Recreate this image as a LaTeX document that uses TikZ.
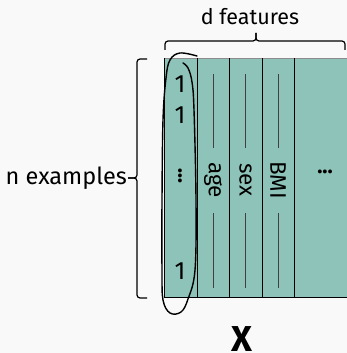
\documentclass[tikz,border=0pt]{standalone}
\usepackage{fontspec}
\setmainfont{Fira Sans}
\definecolor{matfill}{RGB}{141,195,184}
\definecolor{bgcol}{RGB}{249,249,249}
\begin{document}
\begin{tikzpicture}
[x=1pt, y=-1pt, font=\fontsize{21.5}{25}\selectfont,
brk/.style={line width=1.2pt, rounded corners=3pt},
sep/.style={line width=.9pt},
tick/.style={line width=.9pt, black!75},
hand/.style={line width=1.4pt, line cap=round}]
\fill[bgcol] (0,0) rectangle (347,353);
\useasboundingbox (0,0) rectangle (347,353);
\coordinate (tl) at (164,58.5);
\coordinate (br) at (348,297.5);
\fill[matfill] (tl) rectangle (br);
\draw[black!45] (tl) -- (tl -| br);
\draw[sep] (tl) |- (br);
\foreach \x in {197,229.5,262,294} \draw[sep] (\x,58.5) -- (\x,297.5);
\foreach \y/\v [count=\i] in {84/1, 115/1, 271/1} \node[font=\fontsize{25}{30}\selectfont] (one\i) at (180,\y) {\v};
\node[rotate=90] (vdots) at (180,176) {\textbf{...}};
\foreach \x/\lab [count=\i] in {213/age, 245.5/sex, 278/BMI}
{ \node[rotate=-90, font=\fontsize{22.5}{27}\selectfont] (feat\i) at (\x,180) {\lab};
\draw[tick] (\x,74) -- (\x,148);
\draw[tick] (\x,213) -- (\x,288); }
\node (hdots) at (325,172) {\textbf{...}};
\coordinate (ltip) at (128,178);
\coordinate (ttip) at (256,33);
\draw[brk] (147,298) -- (137,298) -- (137,178) -- (ltip);
\draw[brk] (147,59) -- (137,59) -- (137,178) -- (ltip);
\draw[brk] (165,50) -- (165,41) -- (256,41) -- (ttip);
\draw[brk] (345,50) -- (345,41) -- (256,41) -- (ttip);
\node[anchor=east, inner sep=1pt, font=\fontsize{23.5}{28}\selectfont] (nex) at (ltip) {n examples};
\node (dfeat) at (250,17) {d features};
\node[anchor=north, inner sep=0pt, font=\fontsize{36}{42}\selectfont\bfseries] (xmat) at (242,326) {X};
\draw[hand] plot[smooth, tension=.6] coordinates {(197,56) (180,53) (170,60) (166,78) (163,120) (162,200) (162,270) (163,300) (170,313) (181,312) (188,299) (195,270) (196,200) (194,110) (192,82) (188,68) (183,63)};
\end{tikzpicture}
\end{document}
